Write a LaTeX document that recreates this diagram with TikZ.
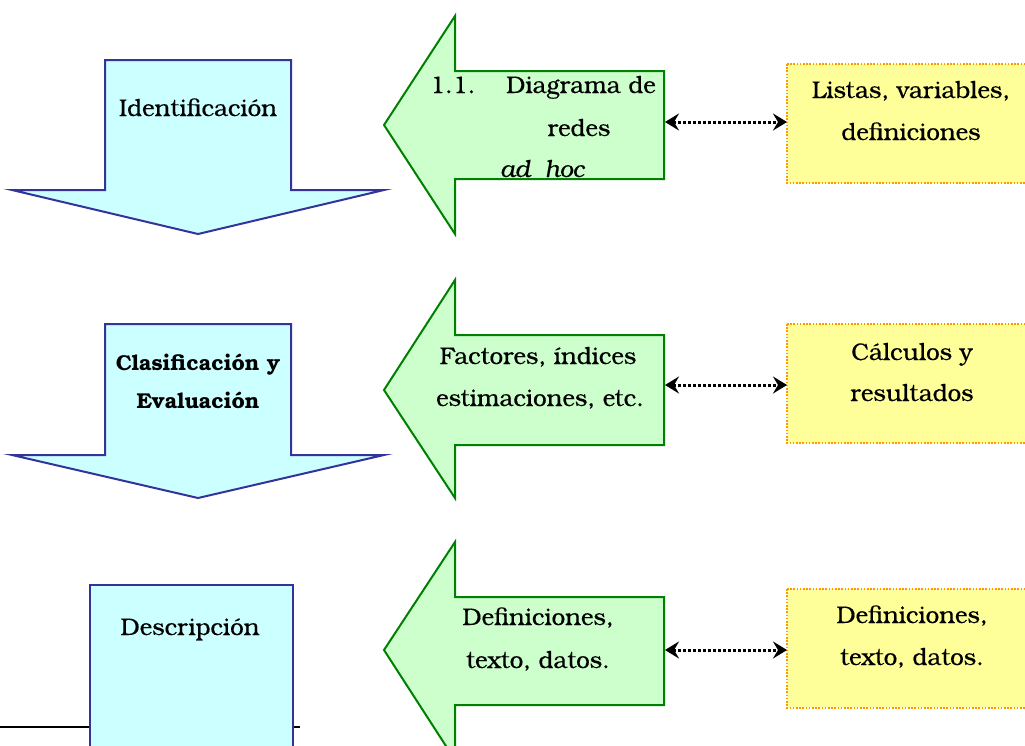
\documentclass[tikz,border=0pt]{standalone}
\usepackage{fontspec}
\setmainfont{texgyrebonum}[Extension=.otf,UprightFont=*-regular,BoldFont=*-bold,ItalicFont=*-italic,BoldItalicFont=*-bolditalic,UprightFeatures={FakeBold=0.4},ItalicFeatures={FakeBold=0.4}]
\usetikzlibrary{arrows.meta}
\definecolor{cfill}{HTML}{CCFFFF}
\definecolor{cline}{HTML}{333399}
\definecolor{gfill}{HTML}{CCFFCC}
\definecolor{gline}{HTML}{008000}
\definecolor{yfill}{HTML}{FFFF99}
\definecolor{yline}{HTML}{FF9900}
\begin{document}
\begin{tikzpicture}[x=1pt,y=-1pt,
  cyanshape/.style={draw=cline,fill=cfill,line width=2pt,line join=miter},
  greenshape/.style={draw=gline,fill=gfill,line width=2pt,line join=miter},
  yshape/.style={draw=yline,fill=yfill,line width=1.8pt,dash pattern=on 1.6pt off 1.6pt},
  dbl/.style={{Stealth[length=14pt,width=17pt,inset=5pt]}-{Stealth[length=14pt,width=17pt,inset=5pt]},line width=3pt,dash pattern=on 3pt off 2pt},
  txt/.style={anchor=base,inner sep=0pt,font=\fontsize{24}{28}\selectfont},
  btxt/.style={anchor=base,inner sep=0pt,font=\fontsize{21.5}{25}\selectfont\bfseries}]
\useasboundingbox (0,0) rectangle (1025,745);
% black line behind the last box
\coordinate (l0) at (0,727);
\coordinate (l1) at (300,727);
\draw[line width=2pt] (l0) -- (l1);
% cyan down arrows
\draw[cyanshape] (105,60) -- (291,60) -- (291,190) -- (384,190) -- (198,234) -- (12,190) -- (105,190) -- cycle;
\draw[cyanshape] (105,324) -- (291,324) -- (291,455) -- (384,455) -- (198,498) -- (12,455) -- (105,455) -- cycle;
\draw[cyanshape] (90,585) rectangle (293,760);
% green left arrows
\draw[greenshape] (384,125) -- (455,16) -- (455,71) -- (664,71) -- (664,179) -- (455,179) -- (455,234) -- cycle;
\draw[greenshape] (384,390) -- (455,280) -- (455,335) -- (664,335) -- (664,445) -- (455,445) -- (455,498) -- cycle;
\draw[greenshape] (384,650) -- (455,542) -- (455,597) -- (664,597) -- (664,705) -- (455,705) -- (455,760) -- cycle;
% yellow boxes
\draw[yshape] (787,64) rectangle (1040,183);
\draw[yshape] (787,324) rectangle (1040,443);
\draw[yshape] (787,589) rectangle (1040,708);
% connector end points
\coordinate (g1) at (665,122);
\coordinate (y1) at (787,122);
\coordinate (g2) at (665,385);
\coordinate (y2) at (787,385);
\coordinate (g3) at (665,650);
\coordinate (y3) at (787,650);
\draw[dbl] (g1) -- (y1);
\draw[dbl] (g2) -- (y2);
\draw[dbl] (g3) -- (y3);
% texts
\node[txt] (t1) at (198,116) {Identificación};
\node[btxt] (t2a) at (198,370) {Clasificación y};
\node[btxt] (t2b) at (198,408) {Evaluación};
\node[txt] (t3) at (190,635) {Descripción};
\node[txt,anchor=base west] (g1a) at (430,93) {1.1.};
\node[txt,anchor=base west] (g1b) at (506,93) {Diagrama de};
\node[txt] (g1c) at (579,136) {redes};
\node[txt] (g1d) at (542,177) {\itshape ad\ \ hoc};
\node[txt] (g2a) at (538,364) {Factores, índices};
\node[txt] (g2b) at (540,406) {estimaciones, etc.};
\node[txt] (g3a) at (538,625) {Definiciones,};
\node[txt] (g3b) at (538,668) {texto, datos.};
\node[txt] (y1a) at (911,98) {Listas, variables,};
\node[txt] (y1b) at (911,140) {definiciones};
\node[txt] (y2a) at (912,360) {Cálculos y};
\node[txt] (y2b) at (912,401) {resultados};
\node[txt] (y3a) at (912,623) {Definiciones,};
\node[txt] (y3b) at (912,665) {texto, datos.};
\end{tikzpicture}
\end{document}
